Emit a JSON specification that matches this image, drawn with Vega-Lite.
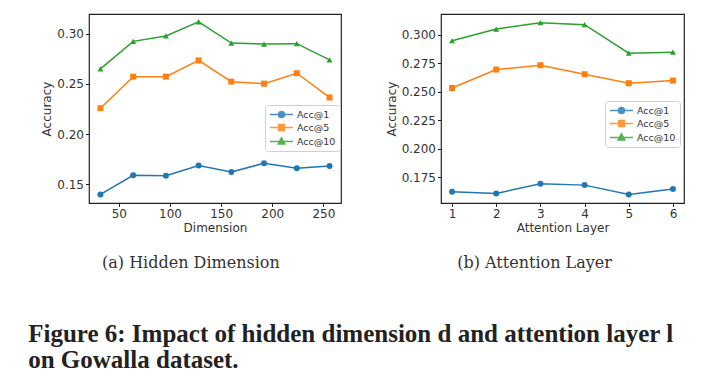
{
  "$schema": "https://vega.github.io/schema/vega-lite/v6.json",
  "background": "white",
  "padding": {"left": 28, "top": 13, "right": 5, "bottom": 5},
  "spacing": 42,
  "datasets": {
    "dim": [
      {"dim": 32, "series": "Acc@1", "acc": 0.1400}, {"dim": 64, "series": "Acc@1", "acc": 0.1590}, {"dim": 96, "series": "Acc@1", "acc": 0.1587}, {"dim": 128, "series": "Acc@1", "acc": 0.1687},
      {"dim": 160, "series": "Acc@1", "acc": 0.1624}, {"dim": 192, "series": "Acc@1", "acc": 0.1711}, {"dim": 224, "series": "Acc@1", "acc": 0.1661}, {"dim": 256, "series": "Acc@1", "acc": 0.1684},
      {"dim": 32, "series": "Acc@5", "acc": 0.2258}, {"dim": 64, "series": "Acc@5", "acc": 0.2572}, {"dim": 96, "series": "Acc@5", "acc": 0.2572}, {"dim": 128, "series": "Acc@5", "acc": 0.2733},
      {"dim": 160, "series": "Acc@5", "acc": 0.2522}, {"dim": 192, "series": "Acc@5", "acc": 0.2502}, {"dim": 224, "series": "Acc@5", "acc": 0.2606}, {"dim": 256, "series": "Acc@5", "acc": 0.2365},
      {"dim": 32, "series": "Acc@10", "acc": 0.2649}, {"dim": 64, "series": "Acc@10", "acc": 0.2923}, {"dim": 96, "series": "Acc@10", "acc": 0.2977}, {"dim": 128, "series": "Acc@10", "acc": 0.3117},
      {"dim": 160, "series": "Acc@10", "acc": 0.2906}, {"dim": 192, "series": "Acc@10", "acc": 0.2896}, {"dim": 224, "series": "Acc@10", "acc": 0.2900}, {"dim": 256, "series": "Acc@10", "acc": 0.2739}
    ],
    "layer": [
      {"layer": 1, "series": "Acc@1", "acc": 0.1621}, {"layer": 2, "series": "Acc@1", "acc": 0.1606}, {"layer": 3, "series": "Acc@1", "acc": 0.1691},
      {"layer": 4, "series": "Acc@1", "acc": 0.1679}, {"layer": 5, "series": "Acc@1", "acc": 0.1597}, {"layer": 6, "series": "Acc@1", "acc": 0.1644},
      {"layer": 1, "series": "Acc@5", "acc": 0.2532}, {"layer": 2, "series": "Acc@5", "acc": 0.2694}, {"layer": 3, "series": "Acc@5", "acc": 0.2732},
      {"layer": 4, "series": "Acc@5", "acc": 0.2653}, {"layer": 5, "series": "Acc@5", "acc": 0.2574}, {"layer": 6, "series": "Acc@5", "acc": 0.2597},
      {"layer": 1, "series": "Acc@10", "acc": 0.2947}, {"layer": 2, "series": "Acc@10", "acc": 0.3050}, {"layer": 3, "series": "Acc@10", "acc": 0.3106},
      {"layer": 4, "series": "Acc@10", "acc": 0.3088}, {"layer": 5, "series": "Acc@10", "acc": 0.2838}, {"layer": 6, "series": "Acc@10", "acc": 0.2847}
    ]
  },
  "title": {
    "text": ["Figure 6: Impact of hidden dimension d and attention layer l", "on Gowalla dataset."],
    "orient": "bottom", "anchor": "start", "frame": "bounds", "align": "left",
    "font": "Liberation Serif", "fontSize": 25, "fontWeight": "bold", "lineHeight": 26,
    "color": "#222", "offset": 51, "dx": -12
  },
  "resolve": {
    "scale": {"color": "independent", "fill": "independent", "shape": "independent"},
    "legend": {"color": "independent", "fill": "independent", "shape": "independent"}
  },
  "hconcat": [
    {
      "width": 252, "height": 189,
      "data": {"name": "dim"},
      "title": {"text": "(a) Hidden Dimension", "orient": "bottom", "anchor": "middle", "frame": "bounds", "font": "DejaVu Serif", "fontSize": 16, "fontWeight": "normal", "color": "#333", "offset": 21},
      "encoding": {
        "x": {"field": "dim", "type": "quantitative", "scale": {"domain": [20.8, 267.2], "nice": false, "zero": false},
              "axis": {"title": "Dimension", "values": [50, 100, 150, 200, 250]}},
        "y": {"field": "acc", "type": "quantitative", "scale": {"domain": [0.1315, 0.3195], "nice": false, "zero": false},
              "axis": {"title": "Accuracy", "values": [0.15, 0.2, 0.25, 0.3], "format": ".2f"}}
      },
      "layer": [
        {
          "mark": {"type": "line", "strokeWidth": 1.5},
          "encoding": {
            "color": {"field": "series", "type": "nominal",
              "scale": {"domain": ["Acc@1", "Acc@5", "Acc@10"], "range": ["#1f77b4", "#ff7f0e", "#2ca02c"]},
              "legend": {"title": null, "orient": "none", "legendX": 176, "legendY": 91, "symbolSize": 81,
                         "labelFont": "DejaVu Sans", "labelFontSize": 9.5, "labelColor": "#333", "labelOffset": 17, "padding": 4, "rowPadding": 0,
                         "strokeColor": "#d0d0d0", "fillColor": "white", "cornerRadius": 3,
                         "encode": {"symbols": {"update": {
                           "shape": {"signal": "datum.value === 'Acc@1' ? 'M-1,0H4.1M0.88,0A0.67,0.67 0 1,0 2.22,0A0.67,0.67 0 1,0 0.88,0Z' : datum.value === 'Acc@5' ? 'M-1,0H4.1M0.9,-0.65H2.2V0.65H0.9Z' : 'M-1,0H4.1M1.55,-0.8L2.3,0.55H0.8Z'"},
                           "size": {"value": 81},
                           "stroke": {"signal": "datum.value === 'Acc@1' ? '#1f77b4' : datum.value === 'Acc@5' ? '#ff7f0e' : '#2ca02c'"},
                           "fill": {"signal": "datum.value === 'Acc@1' ? '#1f77b4' : datum.value === 'Acc@5' ? '#ff7f0e' : '#2ca02c'"},
                           "strokeWidth": {"value": 1.5},
                           "opacity": {"value": 0.8}
                         }}}}}
          }
        },
        {
          "mark": {"type": "point", "filled": true, "size": 36, "opacity": 1},
          "encoding": {
            "fill": {"field": "series", "type": "nominal", "sort": ["Acc@1", "Acc@5", "Acc@10"],
              "scale": {"range": ["#1f77b4", "#ff7f0e", "#2ca02c"]}, "legend": null},
            "shape": {"field": "series", "type": "nominal", "sort": ["Acc@1", "Acc@5", "Acc@10"],
              "scale": {"range": ["circle", "square", "triangle-up"]}, "legend": null}
          }
        }
      ]
    },
    {
      "width": 243, "height": 189,
      "data": {"name": "layer"},
      "title": {"text": "(b) Attention Layer", "orient": "bottom", "anchor": "middle", "frame": "bounds", "font": "DejaVu Serif", "fontSize": 16, "fontWeight": "normal", "color": "#333", "offset": 21},
      "encoding": {
        "x": {"field": "layer", "type": "quantitative", "scale": {"domain": [0.75, 6.25], "nice": false, "zero": false},
              "axis": {"title": "Attention Layer", "values": [1, 2, 3, 4, 5, 6], "format": "d"}},
        "y": {"field": "acc", "type": "quantitative", "scale": {"domain": [0.1522, 0.3182], "nice": false, "zero": false},
              "axis": {"title": "Accuracy", "values": [0.175, 0.2, 0.225, 0.25, 0.275, 0.3], "format": ".3f"}}
      },
      "layer": [
        {
          "mark": {"type": "line", "strokeWidth": 1.5},
          "encoding": {
            "color": {"field": "series", "type": "nominal",
              "scale": {"domain": ["Acc@1", "Acc@5", "Acc@10"], "range": ["#1f77b4", "#ff7f0e", "#2ca02c"]},
              "legend": {"title": null, "orient": "none", "legendX": 164, "legendY": 87, "symbolSize": 81,
                         "labelFont": "DejaVu Sans", "labelFontSize": 9.5, "labelColor": "#333", "labelOffset": 17, "padding": 4, "rowPadding": 0,
                         "strokeColor": "#d0d0d0", "fillColor": "white", "cornerRadius": 3,
                         "encode": {"symbols": {"update": {
                           "shape": {"signal": "datum.value === 'Acc@1' ? 'M-1,0H4.1M0.88,0A0.67,0.67 0 1,0 2.22,0A0.67,0.67 0 1,0 0.88,0Z' : datum.value === 'Acc@5' ? 'M-1,0H4.1M0.9,-0.65H2.2V0.65H0.9Z' : 'M-1,0H4.1M1.55,-0.8L2.3,0.55H0.8Z'"},
                           "size": {"value": 81},
                           "stroke": {"signal": "datum.value === 'Acc@1' ? '#1f77b4' : datum.value === 'Acc@5' ? '#ff7f0e' : '#2ca02c'"},
                           "fill": {"signal": "datum.value === 'Acc@1' ? '#1f77b4' : datum.value === 'Acc@5' ? '#ff7f0e' : '#2ca02c'"},
                           "strokeWidth": {"value": 1.5},
                           "opacity": {"value": 0.8}
                         }}}}}
          }
        },
        {
          "mark": {"type": "point", "filled": true, "size": 36, "opacity": 1},
          "encoding": {
            "fill": {"field": "series", "type": "nominal", "sort": ["Acc@1", "Acc@5", "Acc@10"],
              "scale": {"range": ["#1f77b4", "#ff7f0e", "#2ca02c"]}, "legend": null},
            "shape": {"field": "series", "type": "nominal", "sort": ["Acc@1", "Acc@5", "Acc@10"],
              "scale": {"range": ["circle", "square", "triangle-up"]}, "legend": null}
          }
        }
      ]
    }
  ],
  "config": {
    "view": {"stroke": "#222", "strokeWidth": 1.2},
    "axis": {
      "domain": false, "grid": false,
      "labelFont": "DejaVu Sans", "labelFontSize": 12, "labelColor": "#333", "labelPadding": 2,
      "titleFont": "DejaVu Sans", "titleFontSize": 12, "titleFontWeight": "normal", "titleColor": "#333", "titlePadding": 3,
      "tickColor": "#222", "tickSize": 3.5, "tickWidth": 1
    }
  }
}
